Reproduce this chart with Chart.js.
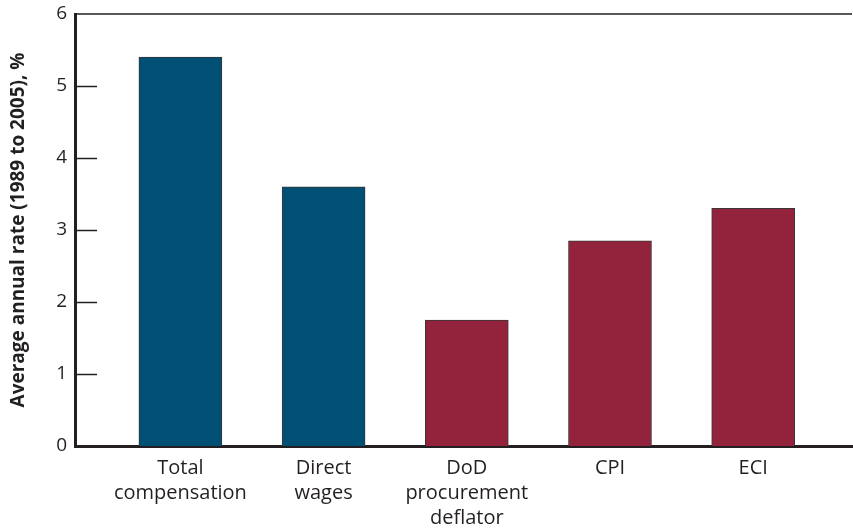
<!DOCTYPE html>
<html lang="en">
<head>
    <meta charset="UTF-8">
    <title>Average annual rate</title>
    <script src="https://cdn.jsdelivr.net/npm/chart.js"></script>
    <style>
        html, body { margin: 0; padding: 0; background: #fff; }
        #wrap { width: 853px; height: 528px; }
    </style>
</head>
<body>
    <div id="wrap"><canvas id="rateChart"></canvas></div>
    <script>
        const categories = [
            ['Total', 'compensation'],
            ['Direct', 'wages'],
            ['DoD', 'procurement', 'deflator'],
            ['CPI'],
            ['ECI']
        ];
        const rates = [5.40, 3.60, 1.75, 2.85, 3.30];
        const barColors = ['#004f74', '#004f74', '#93223d', '#93223d', '#93223d'];
        const yTicks = [0, 1, 2, 3, 4, 5, 6];

        const ink = '#231f20';
        const font = "'Open Sans', sans-serif";

        // inward tick marks and the top frame line
        const frame = {
            id: 'frame',
            afterDatasetsDraw(chart) {
                const c = chart.ctx, a = chart.chartArea, y = chart.scales.y;
                c.save();
                c.strokeStyle = ink;
                c.lineWidth = 1.5;
                yTicks.forEach(v => {
                    if (v === 0 || v === 6) return;
                    const py = Math.round(y.getPixelForValue(v)) + 0.5;
                    c.beginPath();
                    c.moveTo(a.left, py);
                    c.lineTo(a.left + 22, py);
                    c.stroke();
                });
                c.beginPath();
                c.moveTo(a.left, a.top);
                c.lineTo(a.right, a.top);
                c.stroke();
                c.restore();
            }
        };

        new Chart(document.getElementById('rateChart'), {
            type: 'bar',
            data: {
                datasets: [{
                    data: rates.map((v, i) => ({ x: i, y: v })),
                    backgroundColor: barColors,
                    borderColor: '#3a3536',
                    borderWidth: 1,
                    barThickness: 83
                }]
            },
            options: {
                responsive: true,
                maintainAspectRatio: false,
                animation: false,
                layout: { padding: { top: 14, right: 1, left: 0, bottom: 0 } },
                plugins: { legend: { display: false }, tooltip: { enabled: false } },
                scales: {
                    x: {
                        type: 'linear',
                        offset: false,
                        min: -0.736,
                        max: 4.69,
                        afterBuildTicks: s => { s.ticks = categories.map((c, i) => ({ value: i })); },
                        afterFit: s => { s.height = 82; s.paddingLeft = 0; s.paddingRight = 0; },
                        grid: { display: false, drawTicks: false },
                        border: { display: true, color: ink, width: 3 },
                        ticks: {
                            autoSkip: false,
                            maxRotation: 0,
                            padding: 10,
                            color: ink,
                            font: { family: font, size: 20, lineHeight: 1.25 },
                            callback: v => categories[v]
                        }
                    },
                    y: {
                        min: 0,
                        max: 6,
                        afterBuildTicks: s => { s.ticks = yTicks.map(v => ({ value: v })); },
                        afterFit: s => { s.width = 75; s.paddingTop = 0; s.paddingBottom = 0; },
                        grid: { display: false, drawTicks: false },
                        border: { display: true, color: ink, width: 3 },
                        ticks: {
                            padding: 8,
                            color: ink,
                            font: { family: font, size: 19 }
                        },
                        title: {
                            display: true,
                            text: 'Average annual rate (1989 to 2005), %',
                            color: ink,
                            font: { family: font, size: 19, weight: 'bold' },
                            padding: { top: 7, bottom: 0 }
                        }
                    }
                }
            },
            plugins: [frame]
        });
    </script>
</body>
</html>
